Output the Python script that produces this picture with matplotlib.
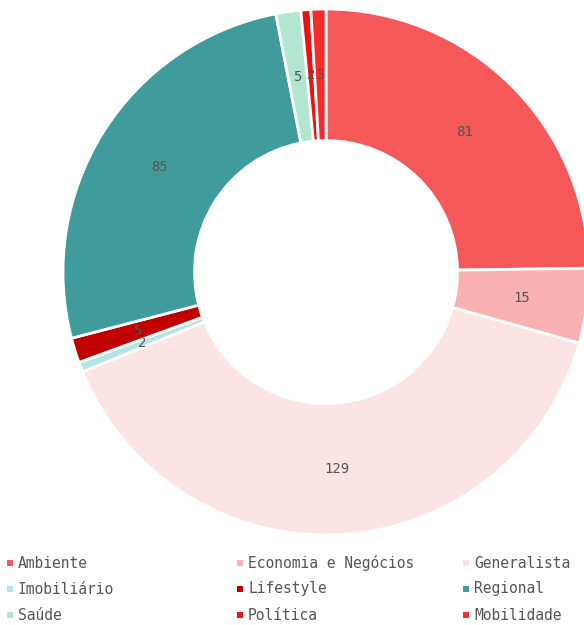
import matplotlib.pyplot as plt
import numpy as np
from matplotlib.patches import Rectangle

categorias = ['Ambiente', 'Economia e Negócios', 'Generalista',
              'Imobiliário', 'Lifestyle', 'Regional',
              'Saúde', 'Política', 'Mobilidade']
valores = [81, 15, 129, 2, 5, 85, 5, 2, 3]
cores = ['#f55858', '#f9b1b1', '#fde4e4',
         '#b5e4e4', '#c00000', '#409c9c',
         '#b2e6d1', '#ee1111', '#f62b2b']

W, H = 584, 625
fig = plt.figure(figsize=(W / 100, H / 100), dpi=100)

# donut: centro (326, 272) px, raggio esterno 263 px
cx, cy, r = 326, 272, 263
ax = fig.add_axes([(cx - r) / W, (H - cy - r) / H, 2 * r / W, 2 * r / H])

wedges, _ = ax.pie(valores, colors=cores, startangle=90, counterclock=False,
                   radius=1, wedgeprops=dict(width=0.5, edgecolor='white', linewidth=2))

# etichette con i valori al centro dell'anello
tot = sum(valores)
ang = 90
for v in valores:
    mid = ang - v / tot * 360 / 2
    ang -= v / tot * 360
    x = 0.75 * np.cos(np.radians(mid))
    y = 0.75 * np.sin(np.radians(mid))
    ax.text(x, y, str(v), ha='center', va='center', fontsize=10,
            family='DejaVu Sans Mono', color='#555555')
ax.set_xlim(-1, 1)
ax.set_ylim(-1, 1)
ax.set_aspect('equal')
ax.axis('off')

# legenda manuale, 3 colonne
col_x = [10, 240, 466]
row_y = [563, 589, 615]
for i, (nome, c) in enumerate(zip(categorias, cores)):
    x = col_x[i % 3]
    y = row_y[i // 3]
    fig.patches.append(Rectangle(((x - 3) / W, (H - y - 3) / H), 6 / W, 6 / H,
                                 transform=fig.transFigure, facecolor=c, edgecolor='none'))
    fig.text((x + 8) / W, (H - y) / H, nome, ha='left', va='center', fontsize=10.5,
             family='DejaVu Sans Mono', color='#555555')

fig.savefig('out.png', dpi=100)
